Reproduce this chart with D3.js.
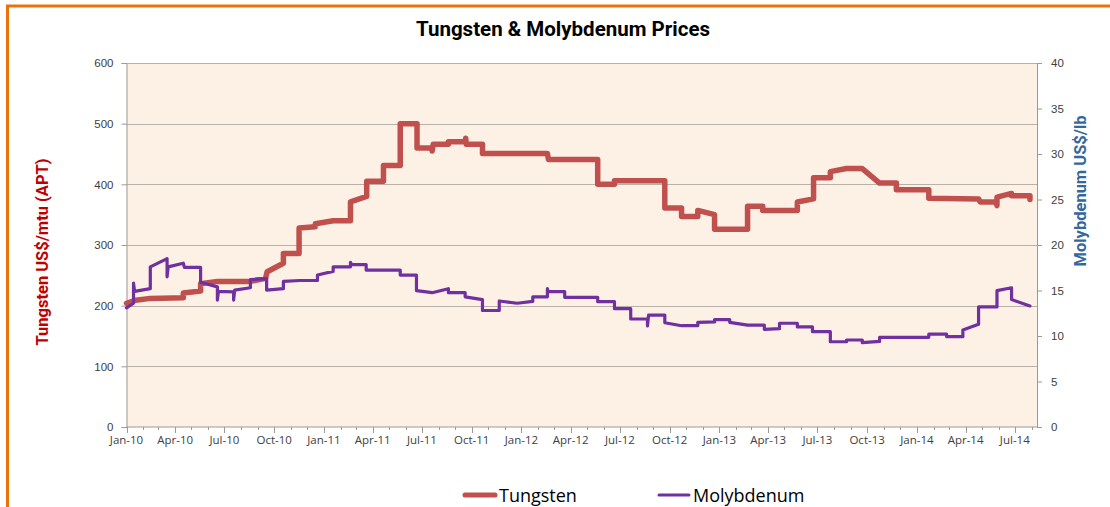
<!DOCTYPE html>
<html>
<head>
<meta charset="utf-8">
<script src="https://cdn.jsdelivr.net/npm/d3@7"></script>
<style>
  body { margin: 0; background: #fff; }
  svg { display: block; }
</style>
</head>
<body>
<div id="chart"></div>
<script>
// tungsten APT, US$/mtu (left axis)
var tungstenDates = [
  "2010-01-01","2010-01-18","2010-02-14","2010-04-16","2010-04-16","2010-05-18","2010-05-18","2010-06-18",
  "2010-08-18","2010-09-15","2010-09-18","2010-10-18","2010-10-18","2010-11-16","2010-11-16","2010-12-16",
  "2010-12-16","2011-01-18","2011-02-19","2011-02-19","2011-03-21","2011-03-21","2011-04-21","2011-04-21",
  "2011-05-22","2011-05-22","2011-06-22","2011-06-22","2011-07-20","2011-07-20","2011-07-22","2011-08-19",
  "2011-08-19","2011-09-19","2011-09-20","2011-09-21","2011-10-21","2011-10-21","2012-02-18","2012-02-20",
  "2012-05-21","2012-05-21","2012-06-21","2012-06-21","2012-09-22","2012-09-22","2012-10-23","2012-10-23",
  "2012-11-22","2012-11-22","2012-12-23","2012-12-23","2013-02-22","2013-02-22","2013-03-22","2013-03-22",
  "2013-05-25","2013-05-25","2013-06-24","2013-06-24","2013-07-25","2013-07-25","2013-08-24","2013-09-22",
  "2013-10-24","2013-11-24","2013-11-24","2014-01-23","2014-01-23","2014-04-25","2014-04-28","2014-05-27",
  "2014-05-29","2014-05-29","2014-06-25","2014-06-25","2014-07-29","2014-07-29"
]
var tungstenPrices = [
  204, 209, 212, 213, 221, 224, 236, 240,
  240, 245, 256, 270, 286, 286, 328, 330,
  335, 340, 340, 371, 380, 405, 405, 431,
  431, 500, 500, 460, 460, 455, 466, 466,
  470, 470, 476, 466, 466, 451, 451, 441,
  441, 400, 400, 406, 406, 361, 361, 347,
  347, 357, 350, 326, 326, 364, 364, 357,
  357, 371, 376, 411, 411, 421, 426, 426,
  402, 402, 391, 391, 377, 376, 371, 371,
  365, 379, 385, 381, 381, 375
]

// molybdenum oxide, US$/lb (right axis)
var molyDates = [
  "2010-01-01","2010-01-14","2010-01-14","2010-01-16","2010-02-14","2010-02-14","2010-03-17","2010-03-17",
  "2010-03-19","2010-04-16","2010-04-18","2010-05-18","2010-05-18","2010-06-18","2010-06-18","2010-06-20",
  "2010-07-18","2010-07-18","2010-07-20","2010-08-18","2010-08-18","2010-09-17","2010-09-17","2010-10-18",
  "2010-10-18","2010-11-18","2010-12-20","2010-12-20","2011-01-18","2011-01-18","2011-02-19","2011-02-19",
  "2011-02-21","2011-03-20","2011-03-20","2011-05-22","2011-05-22","2011-06-21","2011-06-21","2011-07-20",
  "2011-08-19","2011-08-19","2011-09-19","2011-09-19","2011-10-21","2011-10-21","2011-11-21","2011-11-21",
  "2011-12-24","2012-01-22","2012-01-22","2012-02-18","2012-02-18","2012-02-20","2012-03-21","2012-03-21",
  "2012-05-21","2012-05-21","2012-06-21","2012-06-21","2012-07-21","2012-07-21","2012-08-21","2012-08-21",
  "2012-08-23","2012-09-22","2012-09-22","2012-10-23","2012-11-22","2012-11-22","2012-12-23","2012-12-23",
  "2013-01-20","2013-01-20","2013-02-22","2013-03-25","2013-03-25","2013-04-22","2013-04-22","2013-05-25",
  "2013-05-25","2013-06-22","2013-06-22","2013-07-25","2013-07-25","2013-08-24","2013-08-24","2013-09-22",
  "2013-09-22","2013-10-24","2013-10-24","2014-01-23","2014-01-23","2014-02-25","2014-02-25","2014-03-27",
  "2014-03-27","2014-04-25","2014-04-25","2014-05-29","2014-05-29","2014-06-25","2014-06-25","2014-07-29"
]
var molyPrices = [
  13.1, 13.6, 15.8, 14.9, 15.2, 17.6, 18.5, 16.5,
  17.6, 18.0, 17.55, 17.55, 15.9, 15.4, 13.95, 14.9,
  14.85, 13.95, 15.05, 15.3, 16.2, 16.3, 15.05, 15.2,
  16.0, 16.1, 16.1, 16.7, 17.1, 17.6, 17.6, 18.1,
  17.85, 17.85, 17.25, 17.25, 16.7, 16.7, 14.98, 14.76,
  15.2, 14.76, 14.76, 14.3, 14.0, 12.8, 12.8, 13.85,
  13.6, 13.8, 14.3, 14.3, 15.2, 14.87, 14.87, 14.25,
  14.25, 13.77, 13.77, 13.0, 13.0, 11.87, 11.87, 11.1,
  12.3, 12.3, 11.46, 11.13, 11.13, 11.5, 11.55, 11.8,
  11.8, 11.5, 11.2, 11.2, 10.73, 10.8, 11.4, 11.4,
  11.0, 11.0, 10.47, 10.47, 9.37, 9.37, 9.56, 9.56,
  9.27, 9.4, 9.85, 9.85, 10.2, 10.2, 9.93, 9.93,
  10.66, 11.3, 13.2, 13.2, 14.98, 15.3, 14.0, 13.3
]

var leftTicks = [0, 100, 200, 300, 400, 500, 600]
var rightTicks = [0, 5, 10, 15, 20, 25, 30, 35, 40]
var seriesNames = ["Tungsten", "Molybdenum"]
var seriesColors = ["#C0504D", "#7030A0"]

var width = 1110, height = 507
var plot = { left: 126.5, right: 1037, top: 63, bottom: 427 }
var parseDate = d3.timeParse("%Y-%m-%d")

var svg = d3.select("#chart").append("svg")
  .attr("width", width)
  .attr("height", height)
  .style("font-family", "'Open Sans', sans-serif")

// orange frame (only top + left edges show in the window)
svg.append("path")
  .attr("d", "M7.5,507 L7.5,6 L1110,6")
  .attr("fill", "none")
  .attr("stroke", "#E8720C")
  .attr("stroke-width", 3)

var x = d3.scaleTime()
  .domain([parseDate("2010-01-01"), parseDate("2014-08-11")])
  .range([plot.left, plot.right])

var yW = d3.scaleLinear().domain([0, 600]).range([plot.bottom, plot.top])
var yMo = d3.scaleLinear().domain([0, 40]).range([plot.bottom, plot.top])

svg.append("rect")
  .attr("x", plot.left)
  .attr("y", plot.top)
  .attr("width", plot.right - plot.left)
  .attr("height", plot.bottom - plot.top)
  .attr("fill", "#FDF1E6")

// gridlines
svg.append("g")
  .selectAll("line")
  .data(leftTicks.filter(function (d) { return d > 0 }))
  .enter().append("line")
  .attr("x1", plot.left)
  .attr("x2", plot.right)
  .attr("y1", function (d) { return Math.round(yW(d)) + 0.5 })
  .attr("y2", function (d) { return Math.round(yW(d)) + 0.5 })
  .attr("stroke", "#B8B1AA")
  .attr("stroke-width", 1)

// left axis
var leftAxis = svg.append("g")
  .attr("transform", "translate(" + plot.left + ",0)")
  .call(d3.axisLeft(yW).tickValues(leftTicks).tickSize(5).tickPadding(8))
leftAxis.select(".domain").attr("stroke", "#9A9A9A")
leftAxis.selectAll(".tick line").attr("stroke", "#9A9A9A")
leftAxis.selectAll("text").attr("fill", "#404040").style("font-size", "11.5px")

// right axis
var rightAxis = svg.append("g")
  .attr("transform", "translate(" + plot.right + ",0)")
  .call(d3.axisRight(yMo).tickValues(rightTicks).tickSize(5).tickPadding(9))
rightAxis.select(".domain").attr("stroke", "#9A9A9A")
rightAxis.selectAll(".tick line").attr("stroke", "#9A9A9A")
rightAxis.selectAll("text").attr("fill", "#404040").style("font-size", "11.5px")

// x axis: monthly minor ticks, quarterly labels
var months = d3.timeMonth.range(parseDate("2010-01-01"), parseDate("2014-08-12"))
var quarters = months.filter(function (d) { return d.getMonth() % 3 == 0 })

var xAxis = svg.append("g")
  .attr("transform", "translate(0," + plot.bottom + ")")
xAxis.append("line")
  .attr("x1", plot.left)
  .attr("x2", plot.right)
  .attr("stroke", "#9A9A9A")
xAxis.selectAll(".minor")
  .data(months)
  .enter().append("line")
  .attr("class", "minor")
  .attr("x1", function (d) { return Math.round(x(d)) + 0.5 })
  .attr("x2", function (d) { return Math.round(x(d)) + 0.5 })
  .attr("y1", 0)
  .attr("y2", function (d) { return d.getMonth() % 3 == 0 ? 6 : 3 })
  .attr("stroke", "#9A9A9A")
xAxis.selectAll(".label")
  .data(quarters)
  .enter().append("text")
  .attr("class", "label")
  .attr("x", function (d) { return x(d) })
  .attr("y", 17)
  .attr("text-anchor", "middle")
  .attr("fill", "#404040")
  .style("font-size", "11.5px")
  .text(d3.timeFormat("%b-%y"))

// series lines
var lineW = d3.line()
  .x(function (d, i) { return x(parseDate(tungstenDates[i])) })
  .y(function (d) { return yW(d) })

var lineMo = d3.line()
  .x(function (d, i) { return x(parseDate(molyDates[i])) })
  .y(function (d) { return yMo(d) })

svg.append("path")
  .datum(tungstenPrices)
  .attr("d", lineW)
  .attr("fill", "none")
  .attr("stroke", seriesColors[0])
  .attr("stroke-width", 5.5)
  .attr("stroke-linejoin", "round")
  .attr("stroke-linecap", "round")

svg.append("path")
  .datum(molyPrices)
  .attr("d", lineMo)
  .attr("fill", "none")
  .attr("stroke", seriesColors[1])
  .attr("stroke-width", 3.2)
  .attr("stroke-linejoin", "round")
  .attr("stroke-linecap", "round")

// titles
svg.append("text")
  .attr("x", 563)
  .attr("y", 36)
  .attr("text-anchor", "middle")
  .style("font-family", "Roboto, sans-serif")
  .style("font-weight", "bold")
  .style("font-size", "20.5px")
  .attr("fill", "#000")
  .text("Tungsten & Molybdenum Prices")

svg.append("text")
  .attr("transform", "translate(48,252) rotate(-90)")
  .attr("text-anchor", "middle")
  .style("font-family", "Roboto, sans-serif")
  .style("font-weight", "bold")
  .style("font-size", "16.5px")
  .attr("fill", "#C00000")
  .text("Tungsten US$/mtu (APT)")

svg.append("text")
  .attr("transform", "translate(1086,191) rotate(-90)")
  .attr("text-anchor", "middle")
  .style("font-family", "Roboto, sans-serif")
  .style("font-weight", "bold")
  .style("font-size", "16.5px")
  .attr("fill", "#34679E")
  .text("Molybdenum US$/lb")

// legend
var legendX = [465, 659]
var legend = svg.append("g")
  .selectAll("g")
  .data(seriesNames)
  .enter().append("g")
  .attr("transform", function (d, i) { return "translate(" + legendX[i] + ",495)" })

legend.append("line")
  .attr("x1", 0)
  .attr("x2", 30)
  .attr("stroke", function (d, i) { return seriesColors[i] })
  .attr("stroke-width", function (d, i) { return i == 0 ? 5 : 3 })
  .attr("stroke-linecap", "round")

legend.append("text")
  .attr("x", 34)
  .attr("y", 7)
  .style("font-size", "18px")
  .attr("fill", "#000")
  .text(function (d) { return d })
</script>
</body>
</html>
